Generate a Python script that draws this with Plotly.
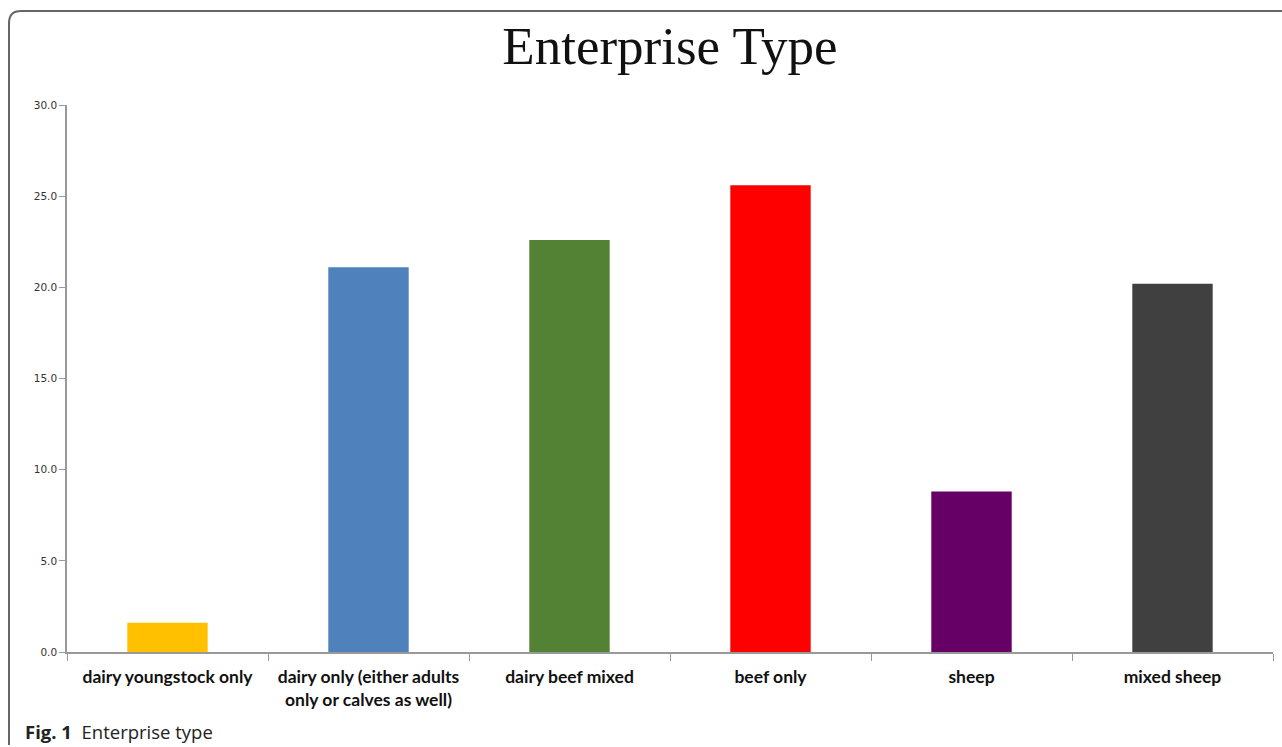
import plotly.graph_objects as go

categories = [
    "dairy youngstock only",
    "dairy only (either adults<br>only or calves as well)",
    "dairy beef mixed",
    "beef only",
    "sheep",
    "mixed sheep",
]
values = [1.6, 21.1, 22.6, 25.6, 8.8, 20.2]
colors = ["#FFC000", "#4F81BD", "#548235", "#FF0000", "#660066", "#404040"]
ytick_vals = [0, 5, 10, 15, 20, 25, 30]
ytick_text = ["0.0", "5.0", "10.0", "15.0", "20.0", "25.0", "30.0"]

W, H = 1282, 747
L, R, T, B = 67, 9, 105, 95
pw, ph = W - L - R, H - T - B

def px(x):
    return (x - L) / pw

def py(y):
    return (H - B - y) / ph

fig = go.Figure(go.Bar(x=categories, y=values, marker_color=colors, marker_line_width=0))

border = (f"M {px(9)},{py(745)} L {px(9)},{py(23)} "
          f"Q {px(9)},{py(11)} {px(21)},{py(11)} L {px(1290)},{py(11)}")

fig.update_layout(
    width=W, height=H,
    margin=dict(l=L, r=R, t=T, b=B),
    paper_bgcolor="white", plot_bgcolor="white",
    bargap=0.6,
    showlegend=False,
    title=dict(text="Enterprise Type", x=px(670), xref="paper", xanchor="center",
               y=1 - 45 / H, yanchor="middle",
               font=dict(family="Liberation Serif", size=53, color="#111")),
    shapes=[dict(type="path", path=border, xref="paper", yref="paper",
                 line=dict(color="#666", width=2))],
    annotations=[dict(text="<b>Fig. 1</b>  Enterprise type", xref="paper", yref="paper",
                      x=px(23), y=py(731), xanchor="left", yanchor="middle", showarrow=False,
                      font=dict(family="Open Sans", size=18.5, color="#222"))],
)
fig.update_xaxes(
    showline=True, linecolor="#999", linewidth=1.5,
    ticks="outside", tickson="boundaries", ticklen=7, tickcolor="#999",
    tickfont=dict(family="Lato", size=17.5, color="#111", weight="bold"),
    ticklabelstandoff=8,
    showgrid=False, range=[-0.5, 5.5],
)
fig.update_yaxes(
    range=[0, 30], tickvals=ytick_vals, ticktext=ytick_text,
    showline=True, linecolor="#999", linewidth=1.5,
    ticks="outside", ticklen=6, tickcolor="#999",
    tickfont=dict(family="DejaVu Sans", size=10.5, color="#333"),
    showgrid=False, zeroline=False,
)
fig.write_html("out.html", config={"responsive": False, "displayModeBar": False},
               post_script="document.body.style.margin='0';document.body.style.overflow='hidden';")
